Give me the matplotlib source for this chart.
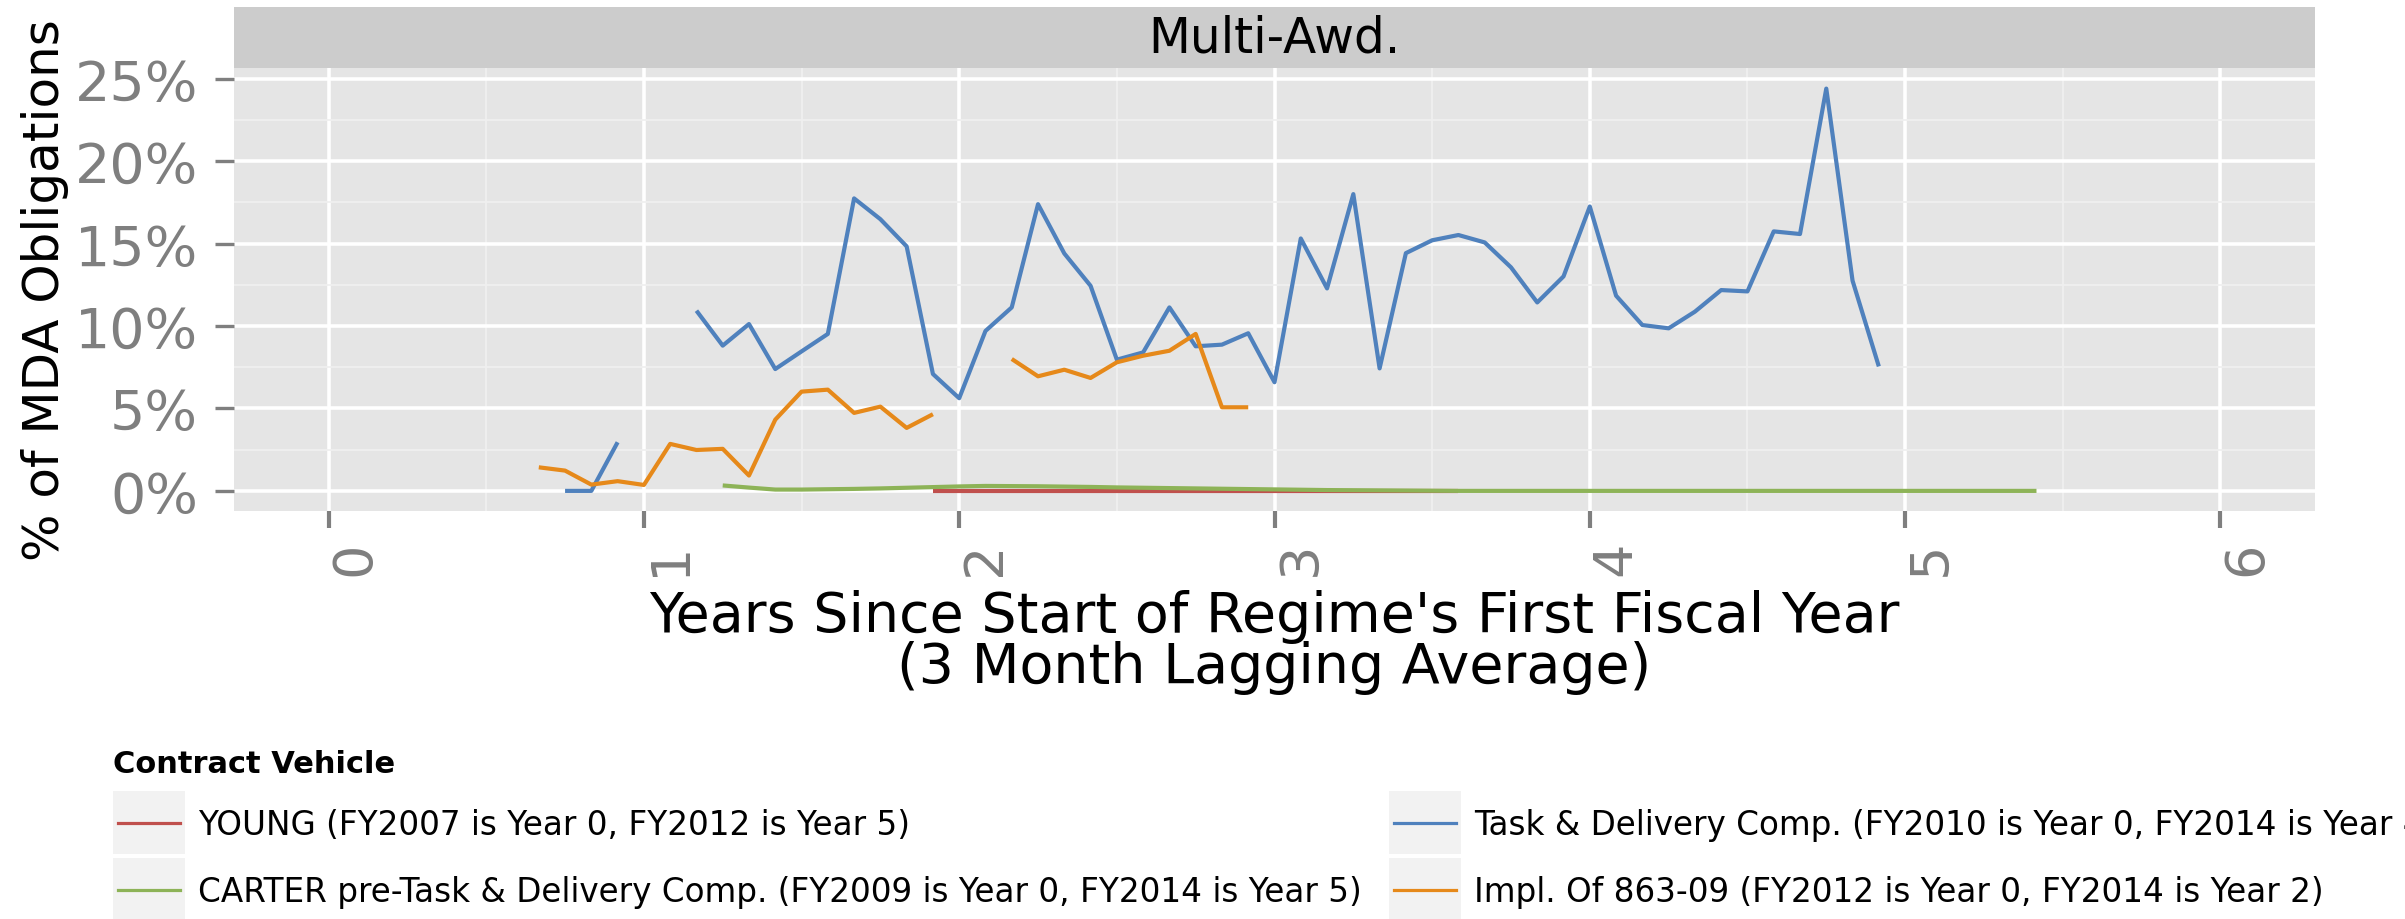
import numpy as np
import matplotlib
matplotlib.use('Agg')
import matplotlib.pyplot as plt
from matplotlib.ticker import MultipleLocator, FuncFormatter
from matplotlib.patches import Rectangle
from matplotlib.lines import Line2D

# data: months since start of regime's first fiscal year, % of MDA obligations
labels = ['YOUNG (FY2007 is Year 0, FY2012 is Year 5)',
          'CARTER pre-Task & Delivery Comp. (FY2009 is Year 0, FY2014 is Year 5)',
          'Task & Delivery Comp. (FY2010 is Year 0, FY2014 is Year 4)',
          'Impl. Of 863-09 (FY2012 is Year 0, FY2014 is Year 2)']
colors = ['#C0504D', '#8DB357', '#4F81BD', '#E6891A']

young_m = list(range(23, 44))
young_v = [-0.03, -0.03, -0.03, -0.03, -0.03, -0.03, -0.03, -0.03, -0.03, -0.03, -0.03,
           -0.03, -0.03, -0.03, -0.03, -0.03, -0.03, -0.03, -0.03, -0.03, -0.03]

carter_m = list(range(15, 66))
carter_v = [0.33, 0.2, 0.08, 0.08, 0.1, 0.12, 0.15, 0.19, 0.23, 0.27, 0.3, 0.29, 0.28,
            0.26, 0.24, 0.21, 0.19, 0.17, 0.15, 0.13, 0.11, 0.09, 0.07, 0.05, 0.04,
            0.03, 0.02, 0.01, 0.0, 0.0, 0.0, 0.0, 0.0, 0.0, 0.0, 0.0, 0.0, 0.0, 0.0,
            0.0, 0.0, 0.0, 0.0, 0.0, 0.0, 0.0, 0.0, 0.0, 0.0, 0.0, 0.0]

tdc_m = list(range(9, 60))
tdc_v = [0.0, 0.0, 2.95, np.nan, np.nan, 10.93, 8.81, 10.12, 7.39, 8.46, 9.52, 17.74,
         16.48, 14.83, 7.09, 5.62, 9.7, 11.13, 17.39, 14.4, 12.44, 7.96, 8.4, 11.13,
         8.77, 8.87, 9.56, 6.59, 15.31, 12.28, 18.0, 7.43, 14.42, 15.2, 15.52, 15.07,
         13.56, 11.43, 13.01, 17.25, 11.84, 10.06, 9.86, 10.87, 12.18, 12.1, 15.74,
         15.58, 24.4, 12.75, 7.55]

impl_m = list(range(8, 36))
impl_v = [1.43, 1.23, 0.38, 0.59, 0.36, 2.85, 2.48, 2.55, 0.93, 4.32, 6.02, 6.14,
          4.73, 5.11, 3.82, 4.65, np.nan, np.nan, 8.0, 6.95, 7.35, 6.85, 7.8, 8.2,
          8.5, 9.52, 5.07, 5.07]

series = [(young_m, young_v), (carter_m, carter_v), (tdc_m, tdc_v), (impl_m, impl_v)]

W, H = 2405, 920
def fx(px):
    return px / W
def fy(py):
    return 1 - py / H

fig = plt.figure(figsize=(W / 100, H / 100), dpi=100)
ax = fig.add_axes([fx(234), fy(512), fx(2315 - 234), (512 - 69) / H])
ax.set_facecolor('#E5E5E5')
for s in ax.spines.values():
    s.set_visible(False)

for (m, v), c in zip(series, colors):
    ax.plot(np.array(m) / 12, v, color=c, lw=3, solid_capstyle='butt')

ax.set_xlim(-0.3, 6.3)
ax.set_ylim(-1.22, 25.65)
ax.xaxis.set_major_locator(MultipleLocator(1))
ax.xaxis.set_minor_locator(MultipleLocator(0.5))
ax.yaxis.set_major_locator(MultipleLocator(5))
ax.yaxis.set_minor_locator(MultipleLocator(2.5))
ax.yaxis.set_major_formatter(FuncFormatter(lambda v, p: '%d%%' % v))
ax.set_axisbelow(True)
ax.grid(which='major', color='white', lw=2.6)
ax.grid(which='minor', color='#F0F0F0', lw=1.3)

ax.tick_params(which='minor', length=0)
ax.tick_params(axis='y', which='major', length=14, width=2.4, pad=12,
               color='#7F7F7F', labelcolor='#7F7F7F', labelsize=40)
ax.tick_params(axis='x', which='major', length=12, width=3, pad=9,
               color='#7F7F7F', labelcolor='#7F7F7F', labelsize=39)
for t in ax.get_xticklabels():
    t.set_rotation(90)
    t.set_ha('left')

ax.set_xlabel("Years Since Start of Regime's First Fiscal Year\n(3 Month Lagging Average)",
              fontsize=40, linespacing=0.95, labelpad=10)
fig.text(fx(45), fy(290), '% of MDA Obligations', rotation=90, fontsize=36,
         ha='center', va='center')

# facet strip
strip_h = (69 - 8) / (512 - 69)
ax.add_patch(Rectangle((0, 1), 1, strip_h, transform=ax.transAxes,
                       facecolor='#CCCCCC', edgecolor='none', clip_on=False))
ax.text(0.5, 1 + strip_h / 2, 'Multi-Awd.', transform=ax.transAxes,
        ha='center', va='center', fontsize=35)

# legend, two columns filled by column
fig.text(fx(113), fy(773), 'Contract Vehicle', fontsize=22, fontweight='bold',
         ha='left', va='baseline')
col_x = [113, 1389]
row_y = [792, 859]
for i, (lab, c) in enumerate(zip(labels, colors)):
    cx = col_x[i // 2]
    ry = row_y[i % 2]
    fig.add_artist(Rectangle((fx(cx), fy(ry + 63)), fx(72), 63 / H,
                             facecolor='#F2F2F2', edgecolor='none'))
    fig.add_artist(Line2D([fx(cx + 5), fx(cx + 67)], [fy(ry + 32), fy(ry + 32)],
                          color=c, lw=2.3))
    fig.text(fx(cx + 85), fy(ry + 43), lab, fontsize=23.5, ha='left', va='baseline')

fig.savefig('out.png', dpi=100)
